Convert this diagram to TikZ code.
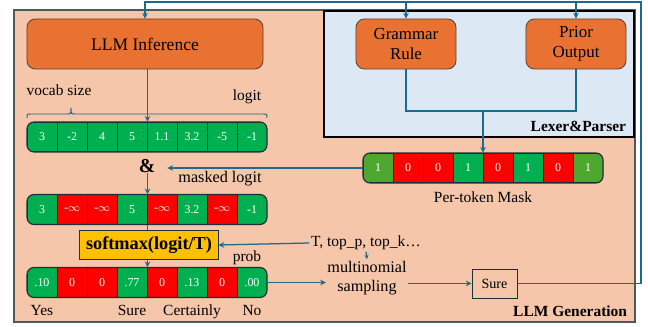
\documentclass[tikz,border=0pt]{standalone}
\usepackage{fontspec}
\setmainfont{Liberation Serif}
\usetikzlibrary{arrows.meta,positioning}

\definecolor{peach}{HTML}{F5C6AA}
\definecolor{paleblue}{HTML}{DDE8F5}
\definecolor{llmorange}{HTML}{E97132}
\definecolor{gold}{HTML}{FFC000}
\definecolor{gcell}{HTML}{00B050}
\definecolor{lgcell}{HTML}{4EA72E}
\definecolor{rcell}{HTML}{FF0000}
\definecolor{wire}{HTML}{1D6A8C}
\definecolor{rim}{HTML}{1E2F3A}

\tikzset{
  block/.style={draw=rim!70!llmorange, fill=llmorange, rounded corners=6pt,
    line width=0.6pt, minimum height=1.25cm, align=center, font=\fontsize{12}{14}\selectfont},
  cell/.style={draw=rim, line width=0.7pt, minimum width=0.75cm, minimum height=0.74cm,
    inner sep=0pt, text=white, font=\fontsize{8.5}{9}\selectfont},
  wire/.style={draw=wire, line width=0.9pt, -{Stealth[length=4pt,width=4pt]}},
  lbl/.style={font=\fontsize{11}{13}\selectfont, inner sep=1pt},
}

% one row of eight token cells: name, left x, centre y, value/colour list
\newcommand{\tokenrow}[4]{%
  \begin{scope}
    \clip[rounded corners=5pt] (#2,#3-15) rectangle (#2+240,#3+15);
    \foreach \v/\c [count=\i] in {#4}
      \node[cell, fill=\c] (#1\i) at (#2+30*\i-15,#3) {\v};
  \end{scope}
  \draw[rim, line width=0.8pt, rounded corners=5pt] (#2,#3-15) rectangle (#2+240,#3+15);
}
\newcommand{\ninf}{-$\infty$}

\begin{document}
\begin{tikzpicture}[x=0.025cm, y=-0.025cm]
\useasboundingbox (0,0) rectangle (648,327);

% frames
\draw[fill=peach, draw=rim!80, line width=1pt] (14,10) rectangle (635,322);
\draw[fill=paleblue, draw=black, line width=0.8pt] (324,11) rectangle (634,137);
\node[anchor=south east, font=\bfseries\fontsize{11}{13}\selectfont] at (631,137) {Lexer\&Parser};
\node[anchor=south east, font=\bfseries\fontsize{11}{13}\selectfont] at (632,322) {LLM Generation};

% model and parser blocks
\node[block, minimum width=5.9cm, font=\fontsize{12.5}{14}\selectfont] (infer) at (145,44) {LLM Inference};
\node[block, minimum width=2.5cm] (grammar) at (406,44) {Grammar\\Rule};
\node[block, minimum width=2.5cm] (prior) at (576,44) {Prior\\Output};

% token rows
\tokenrow{l}{27}{137}{3/gcell,-2/gcell,4/gcell,5/gcell,1.1/gcell,3.2/gcell,-5/gcell,-1/gcell}
\tokenrow{k}{363}{168}{1/lgcell,0/rcell,0/rcell,1/gcell,0/rcell,1/gcell,0/rcell,1/lgcell}
\tokenrow{m}{27}{209.5}{3/gcell,\ninf/rcell,\ninf/rcell,5/gcell,\ninf/rcell,3.2/gcell,\ninf/rcell,-1/gcell}
\tokenrow{p}{27}{282.5}{.10/gcell,0/rcell,0/rcell,.77/gcell,0/rcell,.13/gcell,0/rcell,.00/gcell}

% labels
\draw[draw=wire, line width=0.7pt] (27,118) .. controls (27,114) .. (31,114) -- (67,114)
  .. controls (71,114) .. (71,108) .. controls (71,114) .. (75,114) -- (263,114)
  .. controls (267,114) .. (267,118);
\node[lbl] (vocab) at (59,90) {vocab size};
\node[lbl] (logit) at (247,97) {logit};
\node[lbl] (mask) at (483,197) {Per-token Mask};
\node[lbl, font=\fontsize{11.5}{13}\selectfont] (mlogit) at (220,179) {masked logit};
\node[lbl] (prob) at (247,258) {prob};
\node[lbl, below=4pt of p1] (yes) {Yes};
\node[lbl, below=4pt of p4] (ysure) {Sure};
\node[lbl, below=4pt of p6] (cert) {Certainly};
\node[lbl, below=4pt of p8] (no) {No};

\node[font=\bfseries\fontsize{14}{16}\selectfont, minimum width=1cm, minimum height=0.35cm, inner sep=0pt]
  (amp) at (147,166) {\&};
\node[draw=rim, fill=gold, line width=0.7pt, minimum width=3.45cm, minimum height=0.725cm,
  font=\bfseries\fontsize{13}{15}\selectfont] (soft) at (149,245) {softmax(logit/T)};
\node[lbl] (hyper) at (366,243) {T, top\_p, top\_k…};
\node[lbl, align=center, font=\fontsize{11.5}{14}\selectfont] (samp) at (367,278) {multinomial\\sampling};
\node[draw=rim, line width=0.7pt, minimum width=1.125cm, minimum height=0.725cm,
  font=\fontsize{10}{12}\selectfont] (sure) at (494.5,283.5) {Sure};

% feedback loop
\coordinate (loopR) at (641,2);
\draw[wire] (sure.east) -| (loopR) -| (infer.north);
\draw[wire] (grammar.north |- loopR) -- (grammar.north);
\draw[wire] (prior.north |- loopR) -- (prior.north);

% parser to mask
\coordinate (join) at (483,111);
\draw[wire, -] (grammar.south) |- (join) -| (prior.south);
\draw[wire] (join) -- (join |- k4.north);

% generation flow
\draw[wire] (infer.south -| l4.north east) -- (l4.north east);
\draw[wire] (k1.west) -- (k1.west -| amp.east);
\draw[wire] (amp.south -| m4.north east) -- (m4.north east);
\draw[wire, -] (m4.south east) -- (m4.south east |- soft.north);
\draw[wire] (soft.south -| p4.north east) -- (p4.north east);
\draw[wire] (hyper.west) -- (soft.east);
\draw[wire, -{Stealth[length=3pt,width=3pt]}] (hyper.south) -- (samp.north);
\draw[wire] (p8.east) -- (p8.east -| samp.west);
\draw[wire] (samp.east |- sure.west) -- (sure.west);
\end{tikzpicture}
\end{document}
